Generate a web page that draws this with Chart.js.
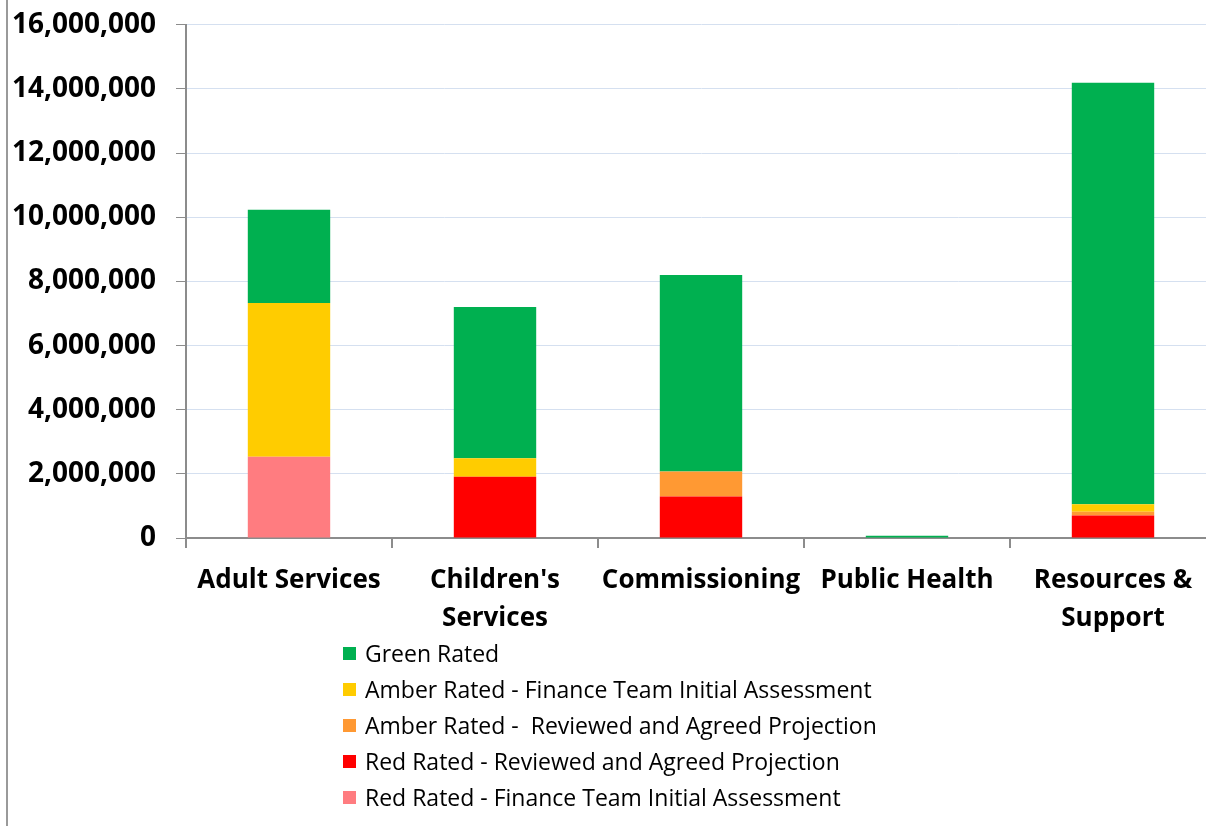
<!DOCTYPE html>
<html>
<head>
<meta charset="utf-8">
<script src="https://cdn.jsdelivr.net/npm/chart.js@4.4.1/dist/chart.umd.min.js"></script>
<style>
  html, body { margin: 0; padding: 0; background: #fff; overflow: hidden; }
  #wrap { position: relative; width: 1206px; height: 826px; overflow: hidden; }
  #frame { position: absolute; left: 6px; top: 0; width: 2px; height: 826px; background: #9a9a9a; }
  #chart { position: absolute; left: 0; top: -12px; }
  #legend { position: absolute; left: 343px; top: 635px; font-family: "Open Sans", sans-serif; font-size: 23px; color: #000; }
  #legend .row { display: flex; align-items: center; height: 36px; white-space: pre; }
  #legend .box { width: 13px; height: 13px; margin-right: 9px; }
</style>
</head>
<body>
<div id="wrap">
  <div id="frame"></div>
  <canvas id="chart" width="1222" height="652"></canvas>
  <div id="legend"></div>
</div>
<script>
// Categories (x axis)
const categories = [['Adult Services'], ["Children's", 'Services'], ['Commissioning'], ['Public Health'], ['Resources &', 'Support']];

// Series values, one per category (stacked bottom -> top)
const redInitial   = [2530000, 0, 0, 0, 0];
const redReviewed  = [0, 1910000, 1290000, 0, 700000];
const amberReviewed = [0, 0, 780000, 0, 120000];
const amberInitial = [4800000, 580000, 0, 0, 230000];
const green        = [2900000, 4710000, 6130000, 70000, 13140000];

// Y tick range
const yMax = 16000000;
const yStep = 2000000;

// Legend labels (legend order, top -> bottom)
const legendLabels = [
    'Green Rated',
    'Amber Rated - Finance Team Initial Assessment',
    'Amber Rated -  Reviewed and Agreed Projection',
    'Red Rated - Reviewed and Agreed Projection',
    'Red Rated - Finance Team Initial Assessment'
];

const colors = {
    green: '#00B050',
    amberInitial: '#FFCC00',
    amberReviewed: '#FF9933',
    redReviewed: '#FF0000',
    redInitial: '#FF7C80'
};

// datasets in stacking order (first = bottom)
const datasets = [
    { label: legendLabels[4], data: redInitial, backgroundColor: colors.redInitial },
    { label: legendLabels[3], data: redReviewed, backgroundColor: colors.redReviewed },
    { label: legendLabels[2], data: amberReviewed, backgroundColor: colors.amberReviewed },
    { label: legendLabels[1], data: amberInitial, backgroundColor: colors.amberInitial },
    { label: legendLabels[0], data: green, backgroundColor: colors.green }
].map(d => Object.assign(d, { categoryPercentage: 1.0, barPercentage: 0.4, borderWidth: 0 }));

const axisColor = '#8c8c8c';

const chart = new Chart(document.getElementById('chart'), {
    type: 'bar',
    data: { labels: categories, datasets: datasets },
    options: {
        responsive: false,
        animation: false,
        layout: { padding: { top: 15, right: 6, left: 0, bottom: 0 } },
        plugins: {
            legend: { display: false },
            tooltip: { enabled: false }
        },
        scales: {
            x: {
                stacked: true,
                grid: { drawOnChartArea: false, tickColor: axisColor, tickLength: 10, lineWidth: 2 },
                border: { color: axisColor, width: 2 },
                ticks: {
                    color: '#000',
                    padding: 14,
                    maxRotation: 0,
                    autoSkip: false,
                    font: { family: 'Open Sans', size: 26, weight: 'bold', lineHeight: 1.45 }
                },
                afterFit: function(scale) { scale.height = 102; }
            },
            y: {
                stacked: true,
                min: 0,
                max: yMax,
                grid: { color: '#d5e0f0', tickColor: axisColor, tickLength: 10, lineWidth: 1 },
                border: { color: axisColor, width: 2 },
                ticks: {
                    stepSize: yStep,
                    color: '#000',
                    padding: 20,
                    font: { family: 'Open Sans', size: 28, weight: 'bold' },
                    callback: v => v.toLocaleString('en-US')
                },
                afterFit: function(scale) { scale.width = 186; }
            }
        }
    }
});

// HTML legend built from the same arrays
const legendColors = [colors.green, colors.amberInitial, colors.amberReviewed, colors.redReviewed, colors.redInitial];
const legendEl = document.getElementById('legend');
legendLabels.forEach((lbl, i) => {
    const row = document.createElement('div');
    row.className = 'row';
    const box = document.createElement('span');
    box.className = 'box';
    box.style.background = legendColors[i];
    const txt = document.createElement('span');
    txt.textContent = lbl;
    row.appendChild(box);
    row.appendChild(txt);
    legendEl.appendChild(row);
});
</script>
</body>
</html>
